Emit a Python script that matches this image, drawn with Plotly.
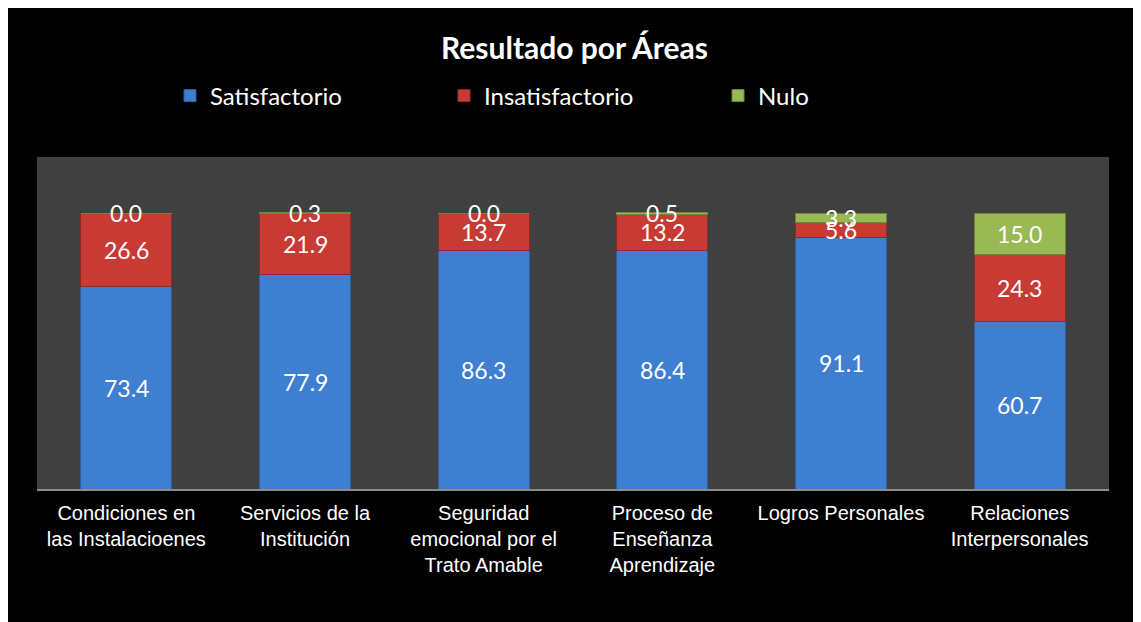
import plotly.graph_objects as go

categories = [
    "Condiciones en<br>las Instalacioenes",
    "Servicios de la<br>Institución",
    "Seguridad<br>emocional por el<br>Trato Amable",
    "Proceso de<br>Enseñanza<br>Aprendizaje",
    "Logros Personales",
    "Relaciones<br>Interpersonales",
]
satisfactorio = [73.4, 77.9, 86.3, 86.4, 91.1, 60.7]
insatisfactorio = [26.6, 21.9, 13.7, 13.2, 5.6, 24.3]
nulo = [0.0, 0.3, 0.0, 0.5, 3.3, 15.0]

series = [
    ("Satisfactorio", satisfactorio, "#3f7fd1", "#2e5f9e"),
    ("Insatisfactorio", insatisfactorio, "#c83a34", "#8e2a26"),
    ("Nulo", nulo, "#98b954", "#6f873c"),
]

fig = go.Figure()
for name, vals, col, lcol in series:
    fig.add_trace(go.Bar(
        x=categories, y=vals, name=name,
        marker=dict(color=col, line=dict(color=lcol, width=1)),
        hoverinfo="skip",
    ))

# data labels at segment centers
base = [0.0] * len(categories)
for name, vals, col, lcol in series:
    for i, v in enumerate(vals):
        fig.add_annotation(
            x=categories[i], y=base[i] + v / 2, xref="x", yref="y",
            text=f"{v:.1f}", showarrow=False,
            font=dict(family="Lato, Noto Sans, sans-serif", size=23, color="white"),
        )
        base[i] += v

fig.update_layout(
    width=1141, height=622,
    barmode="stack", bargap=0.49,
    paper_bgcolor="black", plot_bgcolor="#404040",
    margin=dict(l=29, r=40, t=149, b=141),
    title=dict(text="<b>Resultado por Áreas</b>", x=0.5 - 4 / 1141, xanchor="center",
               y=1 - 40 / 622, yanchor="middle",
               font=dict(family="Lato, Noto Sans, sans-serif", size=30, color="white")),
    legend=dict(orientation="h", x=0.5 + 8 / 1072, xanchor="center", y=1 + 61 / 332, yanchor="middle",
                font=dict(family="Lato, Noto Sans, sans-serif", size=24, color="white"),
                entrywidth=229, entrywidthmode="pixels", bgcolor="rgba(0,0,0,0)",
                traceorder="normal"),
    xaxis=dict(showline=True, linecolor="#8c8c8c", linewidth=2, ticks="",
               ticklabelstandoff=5,
               tickfont=dict(family="Liberation Sans, Arial, sans-serif", size=20, color="white"),
               showgrid=False, fixedrange=True),
    yaxis=dict(range=[0, 120.3], visible=False, showgrid=False, fixedrange=True),
    showlegend=True,
)

fig.write_html("out.html")
